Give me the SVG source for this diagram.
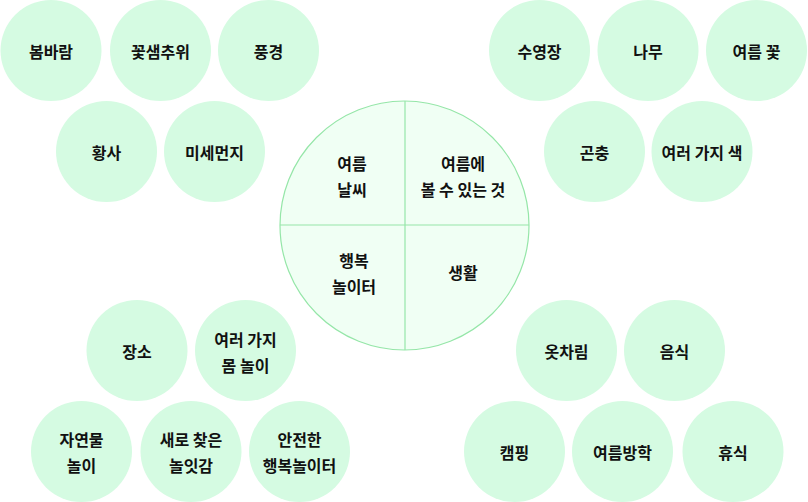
<svg xmlns="http://www.w3.org/2000/svg" width="808" height="502" viewBox="0 0 808 502">
<style>
.n{fill:#d5fbe2}
.t{font-family:"Noto Sans CJK KR","Noto Sans",sans-serif;font-size:16px;font-weight:700;fill:#111;text-anchor:middle;dominant-baseline:central}
.main{fill:#f0fff4;stroke:#95e6a8;stroke-width:1.2}
.div{stroke:#95e6a8;stroke-width:1.2}
</style>
<rect width="808" height="502" fill="#fff"/>
<g id="center">
<circle class="main" cx="404.5" cy="225.5" r="124.5"/>
</g>
<g id="connectors">
<line class="div" x1="405" y1="101" x2="405" y2="350"/>
<line class="div" x1="280" y1="225" x2="529" y2="225"/>
</g>
<g id="q1"><text class="t" x="352" y="163">여름</text><text class="t" x="352" y="189">날씨</text></g>
<g id="q2"><text class="t" x="463" y="163">여름에</text><text class="t" x="463" y="189">볼 수 있는 것</text></g>
<g id="q3"><text class="t" x="354" y="260">행복</text><text class="t" x="354" y="286">놀이터</text></g>
<g id="q4"><text class="t" x="463" y="272">생활</text></g>

<g id="n1"><circle class="n" cx="51" cy="50.5" r="50.5"/><text class="t" x="51" y="50.5">봄바람</text></g>
<g id="n2"><circle class="n" cx="160.5" cy="50.5" r="50.5"/><text class="t" x="160.5" y="50.5">꽃샘추위</text></g>
<g id="n3"><circle class="n" cx="268.5" cy="50.5" r="50.5"/><text class="t" x="268.5" y="50.5">풍경</text></g>
<g id="n4"><circle class="n" cx="106.5" cy="151.5" r="50.5"/><text class="t" x="106.5" y="151.5">황사</text></g>
<g id="n5"><circle class="n" cx="214.5" cy="151.5" r="50.5"/><text class="t" x="214.5" y="151.5">미세먼지</text></g>

<g id="n6"><circle class="n" cx="539.5" cy="50.5" r="50.5"/><text class="t" x="539.5" y="50.5">수영장</text></g>
<g id="n7"><circle class="n" cx="648" cy="50.5" r="50.5"/><text class="t" x="648" y="50.5">나무</text></g>
<g id="n8"><circle class="n" cx="756.5" cy="50.5" r="50.5"/><text class="t" x="756.5" y="50.5">여름 꽃</text></g>
<g id="n9"><circle class="n" cx="594.5" cy="151.5" r="50.5"/><text class="t" x="594.5" y="151.5">곤충</text></g>
<g id="n10"><circle class="n" cx="702" cy="151.5" r="50.5"/><text class="t" x="702" y="151.5">여러 가지 색</text></g>

<g id="n11"><circle class="n" cx="137" cy="350.5" r="50.5"/><text class="t" x="137" y="350.5">장소</text></g>
<g id="n12"><circle class="n" cx="245.5" cy="350.5" r="50.5"/><text class="t" x="245.5" y="339">여러 가지</text><text class="t" x="245.5" y="365">몸 놀이</text></g>
<g id="n13"><circle class="n" cx="81.5" cy="451.5" r="50.5"/><text class="t" x="81.5" y="439">자연물</text><text class="t" x="81.5" y="465">놀이</text></g>
<g id="n14"><circle class="n" cx="191" cy="451.5" r="50.5"/><text class="t" x="191" y="439">새로 찾은</text><text class="t" x="191" y="465">놀잇감</text></g>
<g id="n15"><circle class="n" cx="299.5" cy="451.5" r="50.5"/><text class="t" x="299.5" y="439">안전한</text><text class="t" x="299.5" y="465">행복놀이터</text></g>

<g id="n16"><circle class="n" cx="566.5" cy="350.5" r="50.5"/><text class="t" x="566.5" y="350.5">옷차림</text></g>
<g id="n17"><circle class="n" cx="674.5" cy="350.5" r="50.5"/><text class="t" x="674.5" y="350.5">음식</text></g>
<g id="n18"><circle class="n" cx="514.5" cy="451.5" r="50.5"/><text class="t" x="514.5" y="451.5">캠핑</text></g>
<g id="n19"><circle class="n" cx="622.5" cy="451.5" r="50.5"/><text class="t" x="622.5" y="451.5">여름방학</text></g>
<g id="n20"><circle class="n" cx="733" cy="451.5" r="50.5"/><text class="t" x="733" y="451.5">휴식</text></g>
</svg>
